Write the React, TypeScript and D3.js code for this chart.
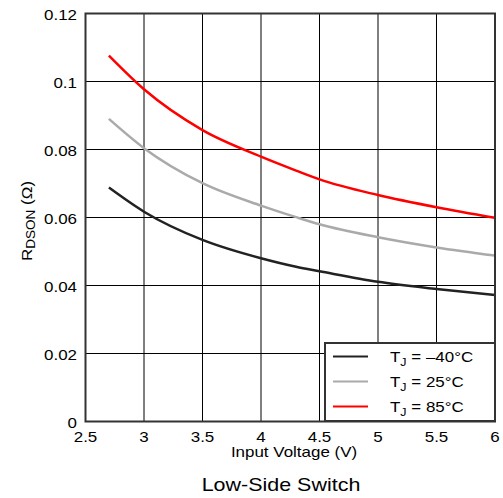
import React from "react";
import * as d3 from "d3";

const voltages = [2.7, 3, 3.5, 4, 4.3, 4.5, 5, 5.5, 6];
const tMinus40 = [0.0688, 0.0617, 0.0534, 0.048, 0.0455, 0.0442, 0.0411, 0.039, 0.0372];
const t25 = [0.089, 0.0804, 0.0701, 0.0635, 0.0601, 0.058, 0.0542, 0.0512, 0.0488];
const t85 = [0.1076, 0.0977, 0.0857, 0.0779, 0.0738, 0.0712, 0.0666, 0.063, 0.0599];
const xTicks = [2.5, 3, 3.5, 4, 4.5, 5, 5.5, 6];
const yTicks = [0, 0.02, 0.04, 0.06, 0.08, 0.1, 0.12];
const seriesNames = ["\u201340\u00B0C", "25\u00B0C", "85\u00B0C"];
const seriesColors = ["#222222", "#aaaaaa", "#ff0000"];

const SX = 1.13;

function T(props: { x: number; y: number; anchor?: string; size: number; rot?: number; children: any }) {
  const { x, y, anchor, size, rot, children } = props;
  return (
    <text
      transform={`translate(${x},${y})${rot ? ` rotate(${rot})` : ""} scale(${SX},1)`}
      textAnchor={anchor || "start"}
      fontSize={size}
      fill="#000"
    >
      {children}
    </text>
  );
}

export default function App() {
  const W = 503, H = 498;
  const L = 85.5, R = 495, Tp = 13.5, B = 421.5;
  const x = d3.scaleLinear().domain([2.5, 6]).range([L, R]);
  const y = d3.scaleLinear().domain([0, 0.12]).range([B, Tp]);
  const series = [tMinus40, t25, t85];
  const line = d3
    .line<number>()
    .x((_, i) => x(voltages[i]))
    .y((d) => y(d))
    .curve(d3.curveMonotoneX);
  const font = "Arial, 'Liberation Sans', Helvetica, sans-serif";
  const legY = [356.5, 381.5, 406.5];
  return (
    <svg
      width={W}
      height={H}
      style={{ position: "absolute", left: 0, top: 0 }}
      fontFamily={font}
    >
      <rect x={0} y={0} width={W} height={H} fill="#fff" />
      {xTicks.map((t) => (
        <line key={"gx" + t} x1={x(t)} x2={x(t)} y1={Tp} y2={B} stroke="#000" strokeWidth={1} />
      ))}
      {yTicks.map((t) => (
        <line key={"gy" + t} x1={L} x2={R} y1={y(t)} y2={y(t)} stroke="#000" strokeWidth={1} />
      ))}
      {series.map((s, i) => (
        <path key={"s" + i} d={line(s) || ""} fill="none" stroke={seriesColors[i]} strokeWidth={2.5} />
      ))}
      <rect x={L} y={Tp} width={R - L} height={B - Tp} fill="none" stroke="#333" strokeWidth={2} />
      {yTicks.map((t) => (
        <T key={"ty" + t} x={77} y={y(t) + 6.5} anchor="end" size={15}>
          {String(t)}
        </T>
      ))}
      {xTicks.map((t) => (
        <T key={"tx" + t} x={x(t)} y={441.5} anchor="middle" size={15}>
          {String(t)}
        </T>
      ))}
      <T x={294} y={457} anchor="middle" size={15}>
        Input Voltage (V)
      </T>
      <T x={281} y={491} anchor="middle" size={19}>
        Low-Side Switch
      </T>
      <T x={32} y={221} rot={-90} anchor="middle" size={15}>
        R<tspan fontSize={12} dy={3}>DSON</tspan>
        <tspan dy={-3}> (Ω)</tspan>
      </T>
      <rect x={325} y={343} width={170} height={78} fill="#fff" stroke="#333" strokeWidth={2} />
      {seriesNames.map((n, i) => (
        <g key={"lg" + i}>
          <line x1={333} x2={368} y1={legY[i]} y2={legY[i]} stroke={seriesColors[i]} strokeWidth={2} />
          <T x={390} y={legY[i] + 5.5} size={15}>
            T<tspan fontSize={11} dy={4}>J</tspan>
            <tspan dy={-4}> = {n}</tspan>
          </T>
        </g>
      ))}
    </svg>
  );
}
